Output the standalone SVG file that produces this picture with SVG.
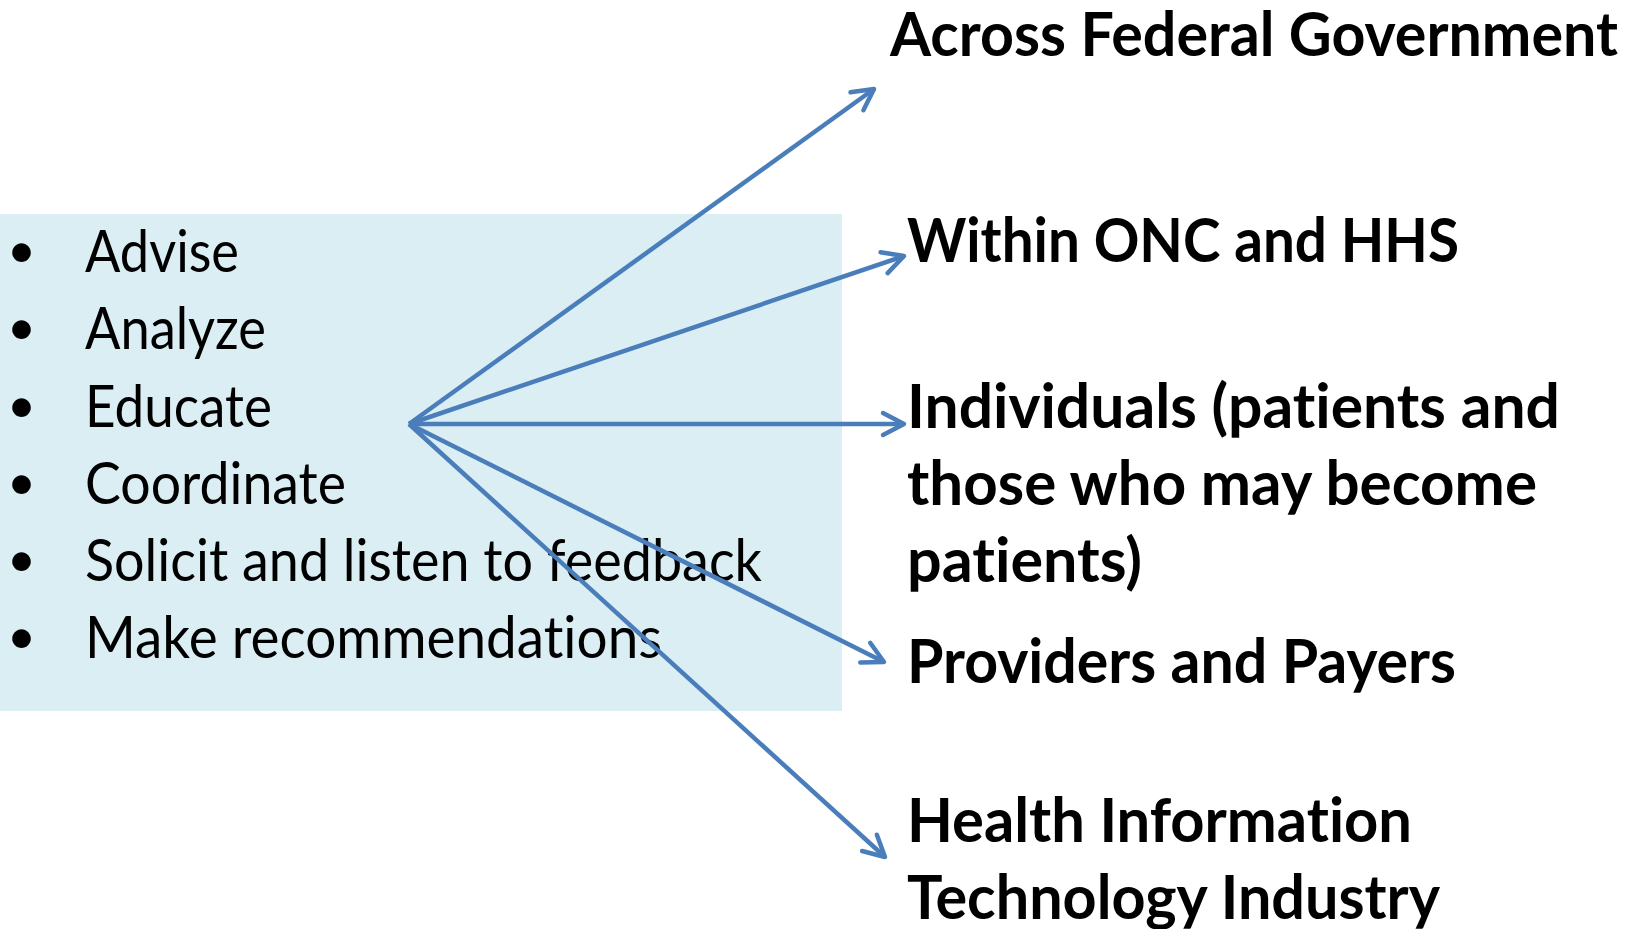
<svg xmlns="http://www.w3.org/2000/svg" width="1631" height="929" viewBox="0 0 1631 929">
  <style>
    .item { font-family: Lato, "Open Sans", "Liberation Sans", sans-serif; font-size: 58px; fill: #000; font-variant-ligatures: none; }
    .bullet { font-size: 50px; }
    .target { font-family: Lato, "Open Sans", "Liberation Sans", sans-serif; font-size: 61px; font-weight: bold; fill: #000; font-variant-ligatures: none; }
    .link { stroke: #4A7EBB; stroke-width: 4.5; fill: none; marker-end: url(#openArrow); }
  </style>
  <defs>
    <marker id="openArrow" markerWidth="30" markerHeight="30" refX="25" refY="15" orient="auto" markerUnits="userSpaceOnUse" viewBox="0 0 30 30">
      <polyline points="4,4 25,15 4,26" fill="none" stroke="#4A7EBB" stroke-width="4.5" stroke-linecap="round" stroke-linejoin="round"/>
    </marker>
  </defs>

  <!-- Activities panel -->
  <g id="activities">
    <rect x="0" y="214" width="842" height="497" fill="#DBEEF4"/>
    <g class="item">
      <text class="bullet" x="7" y="268">•</text>
      <text x="85" y="272" textLength="154" lengthAdjust="spacingAndGlyphs">Advise</text>
      <text class="bullet" x="7" y="345">•</text>
      <text x="85" y="349" textLength="181" lengthAdjust="spacingAndGlyphs">Analyze</text>
      <text class="bullet" x="7" y="423">•</text>
      <text x="85" y="427" textLength="187" lengthAdjust="spacingAndGlyphs">Educate</text>
      <text class="bullet" x="7" y="500">•</text>
      <text x="85" y="504" textLength="261" lengthAdjust="spacingAndGlyphs">Coordinate</text>
      <text class="bullet" x="7" y="577">•</text>
      <text x="85" y="581" textLength="677" lengthAdjust="spacingAndGlyphs">Solicit and listen to feedback</text>
      <text class="bullet" x="7" y="654">•</text>
      <text x="85" y="658" textLength="577" lengthAdjust="spacingAndGlyphs">Make recommendations</text>
    </g>
  </g>

  <!-- Connectors fanning out from the panel -->
  <g id="connectors">
    <line class="link" x1="409" y1="424" x2="874" y2="89"/>
    <line class="link" x1="409" y1="424" x2="904" y2="256"/>
    <line class="link" x1="409" y1="424" x2="904" y2="424"/>
    <line class="link" x1="409" y1="424" x2="884" y2="662"/>
    <line class="link" x1="409" y1="424" x2="885" y2="857"/>
  </g>

  <!-- Audiences -->
  <g id="federal" class="target">
    <text x="890" y="56" textLength="728" lengthAdjust="spacingAndGlyphs">Across Federal Government</text>
  </g>
  <g id="onc-hhs" class="target">
    <text x="907" y="262" textLength="552" lengthAdjust="spacingAndGlyphs">Within ONC and HHS</text>
  </g>
  <g id="individuals" class="target">
    <text x="907" y="428" textLength="653" lengthAdjust="spacingAndGlyphs">Individuals (patients and</text>
    <text x="907" y="505" textLength="630" lengthAdjust="spacingAndGlyphs">those who may become</text>
    <text x="907" y="582" textLength="235" lengthAdjust="spacingAndGlyphs">patients)</text>
  </g>
  <g id="providers" class="target">
    <text x="907" y="683" textLength="549" lengthAdjust="spacingAndGlyphs">Providers and Payers</text>
  </g>
  <g id="health-it" class="target">
    <text x="907" y="842" textLength="505" lengthAdjust="spacingAndGlyphs">Health Information</text>
    <text x="907" y="919" textLength="533" lengthAdjust="spacingAndGlyphs">Technology Industry</text>
  </g>
</svg>
